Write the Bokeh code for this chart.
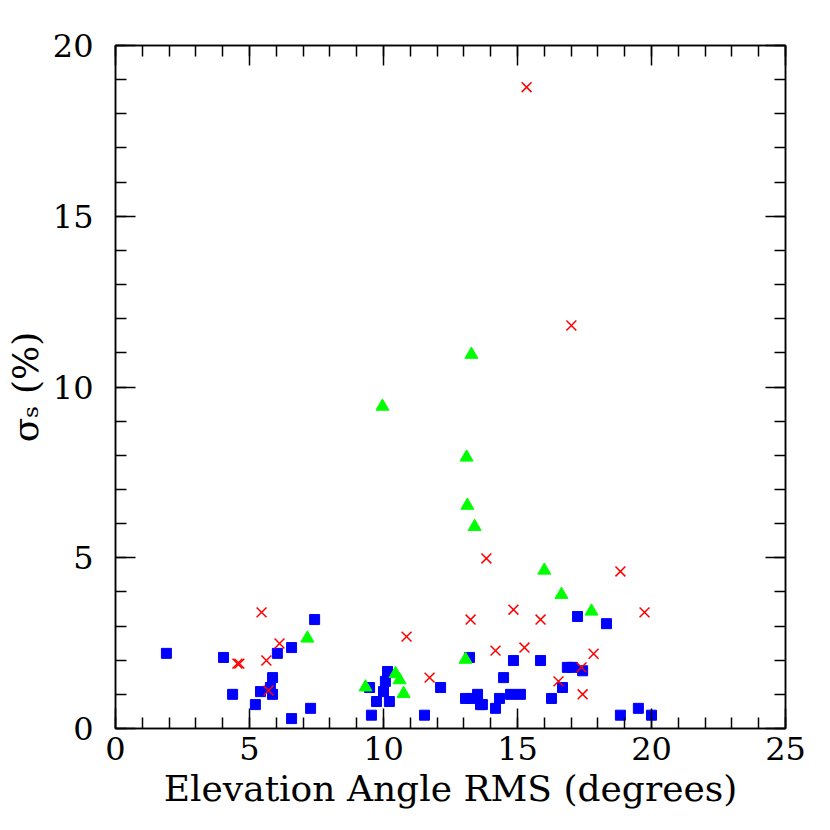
from bokeh.plotting import figure
from bokeh.models import Range1d, FixedTicker, LinearAxis, CustomJSTickFormatter
from bokeh.embed import file_html
from bokeh.resources import INLINE

blue_x = [1.90, 4.03, 4.37, 5.22, 5.41, 5.78, 5.86, 5.86, 6.04, 6.57, 6.57, 7.28, 7.43,
          9.48, 9.55, 9.74, 10.00, 10.07, 10.15, 10.22, 11.53, 12.13, 13.06, 13.21, 13.32,
          13.51, 13.62, 13.69, 14.18, 14.33, 14.48, 14.74, 15.11, 14.85, 15.86, 16.27,
          16.68, 16.86, 17.05, 17.43, 17.24, 18.32, 18.84, 19.51, 20.00]
blue_y = [2.20, 2.08, 1.00, 0.70, 1.08, 1.20, 1.00, 1.49, 2.20, 2.37, 0.29, 0.59, 3.19,
          1.20, 0.39, 0.79, 1.08, 1.38, 1.67, 0.79, 0.39, 1.20, 0.88, 2.08, 0.88,
          1.00, 0.70, 0.70, 0.59, 0.88, 1.49, 1.00, 1.00, 1.99, 1.99, 0.88,
          1.20, 1.79, 1.79, 1.69, 3.28, 3.07, 0.39, 0.59, 0.39]

green_x = [7.16, 9.33, 9.96, 10.45, 10.60, 10.75, 13.06, 13.10, 13.13, 13.28, 13.40, 16.00, 16.64, 17.76]
green_y = [2.64, 1.21, 9.43, 1.60, 1.42, 1.02, 2.02, 7.94, 6.53, 10.95, 5.91, 4.63, 3.92, 3.43]

red_x = [4.55, 4.62, 5.45, 5.63, 5.71, 6.12, 10.86, 11.72, 13.25, 13.84, 14.18, 14.85,
         15.26, 15.34, 15.86, 16.53, 17.01, 17.39, 17.43, 17.84, 18.84, 19.74]
red_y = [1.90, 1.90, 3.40, 1.99, 1.11, 2.49, 2.69, 1.49, 3.19, 4.98, 2.28, 3.48,
         2.37, 18.78, 3.19, 1.38, 11.80, 1.79, 1.00, 2.19, 4.60, 3.40]

x_major = [0, 5, 10, 15, 20, 25]
y_major = [0, 5, 10, 15, 20]
x_title = "Elevation Angle RMS (degrees)"
y_title = "σₛ (%)"

FONT = "DejaVu Serif"

p = figure(width=822, height=822, output_backend="svg", toolbar_location=None,
           x_range=Range1d(0, 25), y_range=Range1d(0, 20),
           min_border_left=115, min_border_right=37, min_border_top=45, min_border_bottom=94)
p.xgrid.visible = False
p.ygrid.visible = False
p.outline_line_color = "black"
p.outline_line_width = 1.5
p.background_fill_color = "white"
p.border_fill_color = "white"

p.xaxis.axis_label = x_title
p.yaxis.axis_label = y_title

def style(ax, labels=True, ticks=None, minor=None):
    ax.ticker = FixedTicker(ticks=ticks, minor_ticks=minor)
    ax.major_tick_in = 20
    ax.major_tick_out = 0
    ax.minor_tick_in = 11
    ax.minor_tick_out = 0
    ax.major_tick_line_width = 1.5
    ax.minor_tick_line_width = 1.5
    ax.axis_line_width = 1.5
    ax.axis_line_color = "black"
    ax.major_tick_line_color = "black"
    ax.minor_tick_line_color = "black"
    if labels:
        ax.major_label_text_font = FONT
        ax.major_label_text_font_size = "32px"
        ax.major_label_text_color = "black"
        ax.axis_label_text_font = FONT
        ax.axis_label_text_font_size = "36px"
        ax.axis_label_text_font_style = "normal"
        ax.axis_label_text_color = "black"
    else:
        ax.formatter = CustomJSTickFormatter(code="return '';")

style(p.xaxis[0], True, x_major, list(range(0, 26)))
style(p.yaxis[0], True, y_major, list(range(0, 21)))
p.xaxis[0].major_label_standoff = 8
p.xaxis[0].axis_label_standoff = 5
p.yaxis[0].major_label_standoff = 22
p.yaxis[0].axis_label_standoff = 4

top = LinearAxis()
style(top, False, x_major, list(range(0, 26)))
p.add_layout(top, "above")
right = LinearAxis()
style(right, False, y_major, list(range(0, 21)))
p.add_layout(right, "right")

p.scatter(blue_x, blue_y, marker="square", size=10, fill_color="#0000ff", line_color="#0000ff")
p.scatter(green_x, green_y, marker="triangle", size=13, fill_color="#00ff00", line_color="#00ff00")
p.scatter(red_x, red_y, marker="x", size=14, line_color="#ff0000", line_width=1.5)

open("out.html", "w").write(file_html(p, INLINE))
